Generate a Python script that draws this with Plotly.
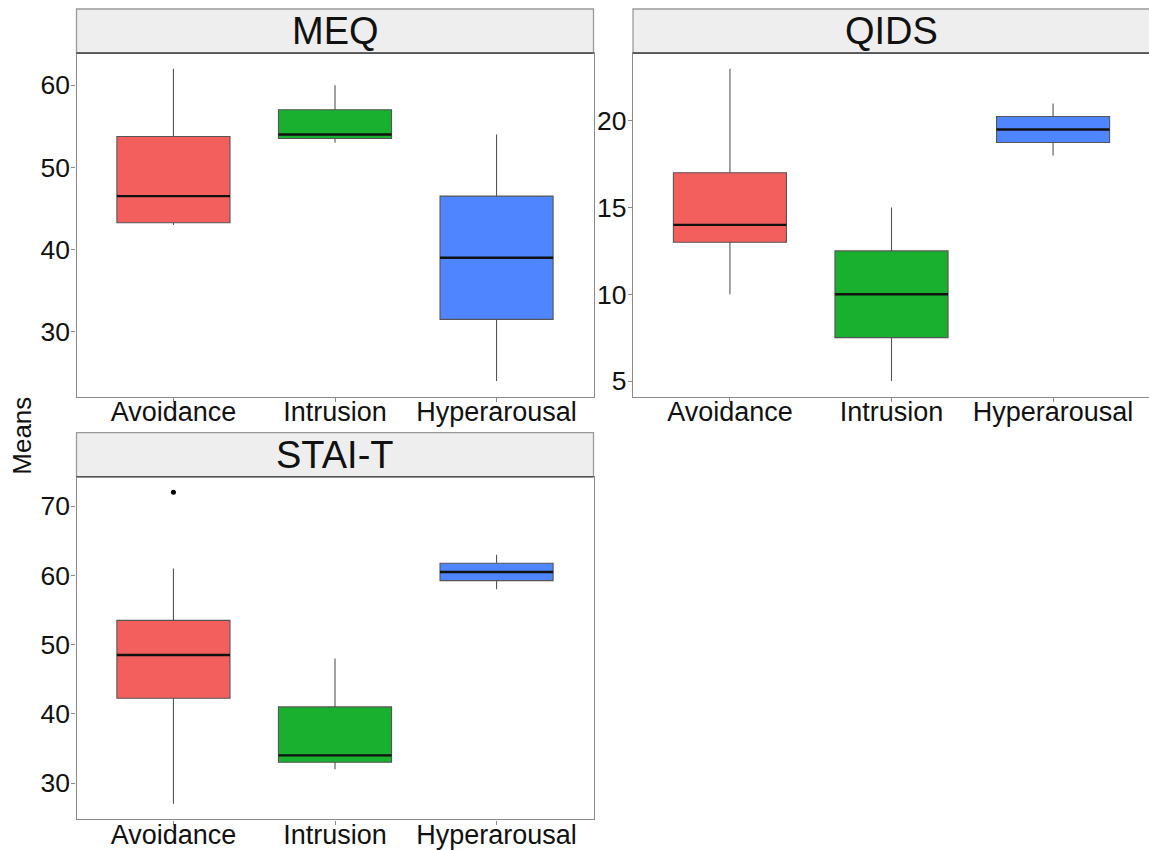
import plotly.graph_objects as go

# Symptom clusters (x categories)
categories = ["Avoidance", "Intrusion", "Hyperarousal"]
fills = ["#F25F5C", "#19B02F", "#4F86FF"]

# Five-number summaries per facet: lower whisker, Q1, median, Q3, upper whisker
meq_low = [43, 53, 24]
meq_q1 = [43.25, 53.5, 31.5]
meq_med = [46.5, 54, 39]
meq_q3 = [53.75, 57, 46.5]
meq_high = [62, 60, 54]

qids_low = [10, 5, 18]
qids_q1 = [13, 7.5, 18.75]
qids_med = [14, 10, 19.5]
qids_q3 = [17, 12.5, 20.25]
qids_high = [23, 15, 21]

stai_low = [27, 32, 58]
stai_q1 = [42.25, 33, 59.25]
stai_med = [48.5, 34, 60.5]
stai_q3 = [53.5, 41, 61.75]
stai_high = [61, 48, 63]

# Outlying observations
stai_out_x = ["Avoidance"]
stai_out_y = [72]

W, H = 1149, 850
Y_STRETCH = 1.0136
FONT = "Liberation Sans, Arial, sans-serif"
BOX_W = 0.7


def px_x(v):
    return v / W


def px_y(v):
    return 1 - v * Y_STRETCH / H


facets = [
    dict(name="MEQ", low=meq_low, q1=meq_q1, med=meq_med, q3=meq_q3, high=meq_high,
         out_x=[], out_y=[], xs=(76.5, 593.5), ys=(53, 396), strip_top=9, right_line=True),
    dict(name="QIDS", low=qids_low, q1=qids_q1, med=qids_med, q3=qids_q3, high=qids_high,
         out_x=[], out_y=[], xs=(633, 1150), ys=(53, 396), strip_top=9, right_line=False),
    dict(name="STAI-T", low=stai_low, q1=stai_q1, med=stai_med, q3=stai_q3, high=stai_high,
         out_x=stai_out_x, out_y=stai_out_y, xs=(76.5, 593.5), ys=(476, 818), strip_top=432, right_line=True),
]

fig = go.Figure()
shapes = []
annotations = []
layout_axes = {}

for k, f in enumerate(facets, start=1):
    sfx = "" if k == 1 else str(k)
    xref, yref = "x" + sfx, "y" + sfx
    for i, cat in enumerate(categories):
        fig.add_trace(go.Box(
            x=[cat], q1=[f["q1"][i]], median=[f["med"][i]], q3=[f["q3"][i]],
            lowerfence=[f["low"][i]], upperfence=[f["high"][i]],
            fillcolor=fills[i], line=dict(color="#555555", width=1.1),
            width=BOX_W, whiskerwidth=0, boxpoints=False,
            showlegend=False, hoverinfo="skip",
            xaxis=xref, yaxis=yref,
        ))
        # bold median bar across the box
        shapes.append(dict(
            type="line", xref=xref, yref=yref,
            x0=i - BOX_W / 2, x1=i + BOX_W / 2, y0=f["med"][i], y1=f["med"][i],
            line=dict(color="#111111", width=2.4), layer="above",
        ))
    if f["out_x"]:
        fig.add_trace(go.Scatter(
            x=f["out_x"], y=f["out_y"], mode="markers",
            marker=dict(color="black", size=5), showlegend=False,
            hoverinfo="skip", xaxis=xref, yaxis=yref,
        ))

    # y-range: data extent with 5% padding on each side
    vals = f["low"] + f["high"] + f["out_y"]
    lo, hi = min(vals), max(vals)
    pad = 0.05 * (hi - lo)

    x0p, x1p = f["xs"]
    y0p, y1p = f["ys"]
    # keep equal px per category; trim the domain at the page edge
    x1_clip = min(x1p, W)
    xr_right = 2.6 - (x1p - x1_clip) / ((x1p - x0p) / 3.2)

    layout_axes["xaxis" + sfx] = dict(
        domain=[px_x(x0p), px_x(x1_clip)], anchor=yref,
        type="category", categoryorder="array", categoryarray=categories,
        range=[-0.6, xr_right],
        showgrid=False, zeroline=False,
        showline=True, linecolor="#8a8a8a", linewidth=1.3, mirror=True,
        ticks="outside", ticklen=4, tickcolor="#8a8a8a", tickwidth=1,
        ticklabelstandoff=-13,
        tickfont=dict(family=FONT, size=27, color="#111111"),
    )
    layout_axes["yaxis" + sfx] = dict(
        domain=[px_y(y1p), px_y(y0p)], anchor=xref,
        range=[lo - pad, hi + pad], dtick=10 if k != 2 else 5,
        showgrid=False, zeroline=False,
        showline=True, linecolor="#8a8a8a", linewidth=1.3, mirror=f["right_line"],
        ticks="outside", ticklen=4, tickcolor="#8a8a8a", tickwidth=1,
        ticklabelstandoff=-4,
        tickfont=dict(family=FONT, size=26.5, color="#111111"),
    )

    # facet strip
    shapes.append(dict(
        type="rect", xref="paper", yref="paper",
        x0=px_x(x0p), x1=px_x(x1p), y0=px_y(y0p), y1=px_y(f["strip_top"]),
        fillcolor="#EEEEEE", line=dict(color="#9a9a9a", width=1.3), layer="below",
    ))
    shapes.append(dict(
        type="line", xref="paper", yref="paper",
        x0=px_x(x0p), x1=px_x(x1p), y0=px_y(y0p), y1=px_y(y0p),
        line=dict(color="#555555", width=1.6),
    ))
    annotations.append(dict(
        text=f["name"], xref="paper", yref="paper",
        x=px_x((x0p + x1p) / 2), y=px_y((y0p + f["strip_top"]) / 2),
        xanchor="center", yanchor="middle", showarrow=False,
        font=dict(family=FONT, size=38, color="#111111"),
    ))

annotations.append(dict(
    text="Means", xref="paper", yref="paper",
    x=px_x(22), y=px_y(435), xanchor="center", yanchor="middle",
    textangle=-90, showarrow=False,
    font=dict(family=FONT, size=26, color="#111111"),
))

fig.update_layout(
    width=W, height=H,
    margin=dict(l=0, r=0, t=0, b=0),
    paper_bgcolor="white", plot_bgcolor="white",
    boxmode="overlay",
    shapes=shapes, annotations=annotations,
    **layout_axes,
)

fig.write_html("out.html")
